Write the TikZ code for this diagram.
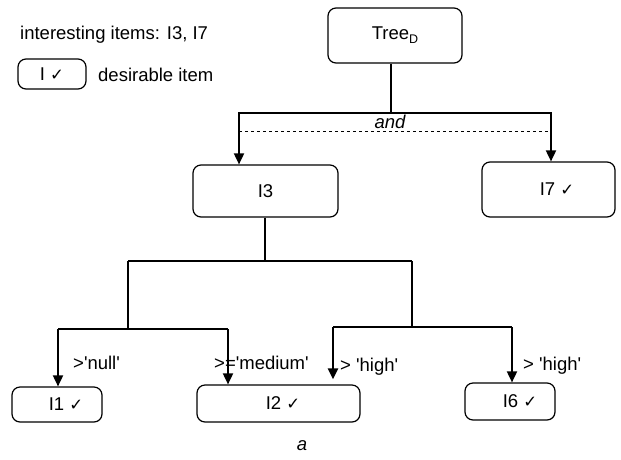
\documentclass[tikz,border=0pt]{standalone}
\usepackage{fontspec}
\setmainfont{Liberation Sans}
\newfontfamily\ckfont{DejaVu Sans}
\usetikzlibrary{arrows.meta,calc}
% check mark and straight quote
\newcommand\ck{{\ckfont\fontsize{16.5}{16.5}\selectfont ✓}}
\newcommand\sq{\textquotesingle}
\begin{document}
\begin{tikzpicture}[x=1pt,y=-1pt,
  every node/.style={font=\fontsize{18.5pt}{22pt}\selectfont},
  box/.style={draw, line width=1.2pt, rounded corners=8pt, inner sep=0pt},
  conn/.style={line width=1.8pt},
  heavy/.style={line width=2.6pt},
  arr/.style={line width=1.8pt, -{Triangle[length=11pt,width=10pt]}},
  lbl/.style={inner sep=0pt, anchor=west}]
\useasboundingbox (0,0) rectangle (621,459);

% legend
\node[lbl] (legtxt) at (20,35) {interesting items: I3, I7};
\node[box, minimum width=68pt, minimum height=30pt] (legbox) at (52,74) {I \ck};
\node[lbl] (legdesc) at (98,75) {desirable item};

% tree nodes
\node[box, minimum width=134pt, minimum height=55pt] (treeD) at (395,35.5)
  {Tree\raisebox{-4pt}{\fontsize{12.5pt}{12.5pt}\selectfont D}};
\node[box, minimum width=145pt, minimum height=52pt] (i3) at (265.5,191) {I3};
\node[box, minimum width=133pt, minimum height=55pt] (i7) at (548.5,189.5) {\hspace*{17pt}I7 \ck};
\node[box, minimum width=90pt, minimum height=35pt] (i1) at (57,404.5) {\hspace*{18pt}I1 \ck};
\node[box, minimum width=163pt, minimum height=37pt] (i2) at (278.5,403.5) {\hspace*{9pt}I2 \ck};
\node[box, minimum width=90pt, minimum height=37pt] (i6) at (510,401.5) {\hspace*{20pt}I6 \ck};

% junction points
\coordinate (top) at (391,113);
\coordinate (andL) at (239,113);
\coordinate (andR) at (551,113);
\coordinate (mid) at (265,261);
\coordinate (lb) at (128,261);
\coordinate (rb) at (412,261);
\coordinate (lj) at (128,329);
\coordinate (l1) at (58,329);
\coordinate (l2) at (228,329);
\coordinate (rj) at (412,327);
\coordinate (r1) at (333,327);
\coordinate (r2) at (512,327);

% "and" split below the root
\draw[conn] (treeD.south -| top) -- (top);
\draw[arr] (top) -| (i3.north -| andL);
\draw[arr] (top) -| (i7.north -| andR);
\draw[dashed, line width=0.8pt] (239,131) -- (550,131);
\node[font=\itshape\fontsize{18.5pt}{22pt}\selectfont] (andtxt) at (390,122) {and};

% split below I3
\draw[conn] (i3.south -| mid) -- (mid);
\draw[conn] (lb) -- (rb);
\draw[heavy] (lb) -- (lj);
\draw[conn] (l1) -- (l2);
\draw[arr] (l1) -- (i1.north -| l1);
\draw[arr] (l2) -- (i2.north -| l2);
\draw[conn] (rb) -- (rj);
\draw[conn] (r1) -- (r2);
\draw[heavy, -{Triangle[length=11pt,width=10pt]}] (r1) -- ($(i2.north -| r1)+(0,-5)$);
\draw[arr] (r2) -- (i6.north -| r2);

% branch conditions
\node[lbl] (c1) at (73,363) {>\sq null\sq};
\node[lbl] (c2) at (214,363) {>=\sq medium\sq};
\node[lbl] (c3) at (340,367) {> \sq high\sq};
\node[lbl] (c4) at (523,366) {> \sq high\sq};

% caption
\node[font=\itshape\fontsize{18.5pt}{22pt}\selectfont] (cap) at (302,446) {a};
\end{tikzpicture}
\end{document}
